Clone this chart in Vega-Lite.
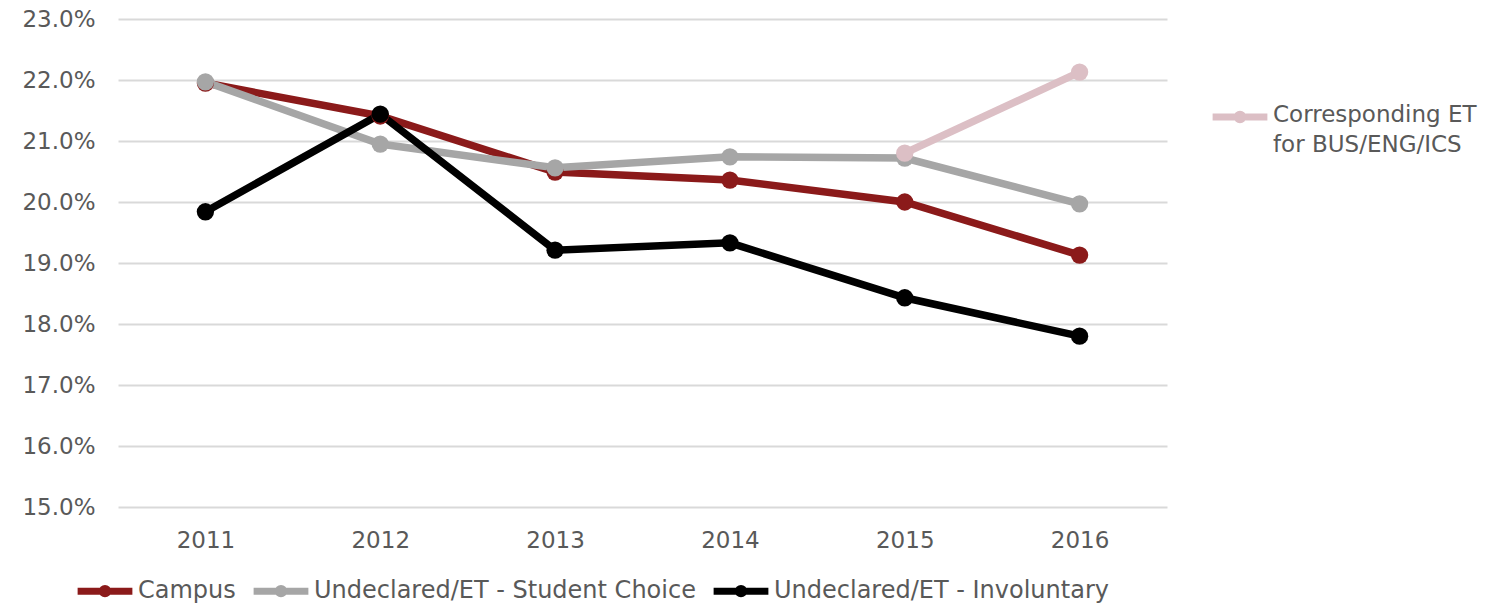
{
  "$schema": "https://vega.github.io/schema/vega-lite/v6.json",
  "width": 1049,
  "height": 488,
  "autosize": {"type": "none"},
  "padding": {"left": 118, "top": 19, "right": 331, "bottom": 98},
  "background": "white",
  "config": {
    "view": {"stroke": null},
    "font": "DejaVu Sans",
    "axis": {"labelFont": "DejaVu Sans", "labelColor": "#595959", "labelFontSize": 23}
  },
  "data": {
    "values": [
      {"year": "2011", "series": "Campus", "v": 0.2195},
      {"year": "2012", "series": "Campus", "v": 0.2141},
      {"year": "2013", "series": "Campus", "v": 0.2049},
      {"year": "2014", "series": "Campus", "v": 0.2036},
      {"year": "2015", "series": "Campus", "v": 0.2000},
      {"year": "2016", "series": "Campus", "v": 0.1913},
      {"year": "2011", "series": "Undeclared/ET - Student Choice", "v": 0.2197},
      {"year": "2012", "series": "Undeclared/ET - Student Choice", "v": 0.2095},
      {"year": "2013", "series": "Undeclared/ET - Student Choice", "v": 0.2056},
      {"year": "2014", "series": "Undeclared/ET - Student Choice", "v": 0.2074},
      {"year": "2015", "series": "Undeclared/ET - Student Choice", "v": 0.2072},
      {"year": "2016", "series": "Undeclared/ET - Student Choice", "v": 0.1997},
      {"year": "2011", "series": "Undeclared/ET - Involuntary", "v": 0.1984},
      {"year": "2012", "series": "Undeclared/ET - Involuntary", "v": 0.2144},
      {"year": "2013", "series": "Undeclared/ET - Involuntary", "v": 0.1921},
      {"year": "2014", "series": "Undeclared/ET - Involuntary", "v": 0.1933},
      {"year": "2015", "series": "Undeclared/ET - Involuntary", "v": 0.1843},
      {"year": "2016", "series": "Undeclared/ET - Involuntary", "v": 0.1780},
      {"year": "2015", "series": "Corresponding ET for BUS/ENG/ICS", "v": 0.2080},
      {"year": "2016", "series": "Corresponding ET for BUS/ENG/ICS", "v": 0.2213}
    ]
  },
  "encoding": {
    "x": {
      "field": "year", "type": "ordinal",
      "scale": {"type": "point", "padding": 0.5},
      "axis": {"title": null, "labelAngle": 0, "domain": false, "ticks": false, "labelPadding": 22, "grid": false}
    },
    "y": {
      "field": "v", "type": "quantitative",
      "scale": {"domain": [0.15, 0.23], "nice": false, "zero": false},
      "axis": {
        "title": null, "format": ".1%", "domain": false, "ticks": false, "labelPadding": 23,
        "values": [0.15, 0.16, 0.17, 0.18, 0.19, 0.20, 0.21, 0.22, 0.23],
        "gridColor": "#D9D9D9", "gridWidth": 2
      }
    }
  },
  "layer": [
    {
      "transform": [{"filter": "datum.series !== 'Corresponding ET for BUS/ENG/ICS'"}],
      "mark": {"type": "line", "strokeWidth": 7.5, "point": {"filled": true, "size": 300}},
      "encoding": {
        "color": {
          "field": "series", "type": "nominal",
          "scale": {
            "domain": ["Campus", "Undeclared/ET - Student Choice", "Undeclared/ET - Involuntary"],
            "range": ["#8B1A1A", "#A6A6A6", "#000000"]
          },
          "legend": {
            "title": null, "orient": "none", "direction": "horizontal",
            "legendX": -44, "legendY": 541,
            "symbolType": "M-1,0H1M-0.1,0A0.1,0.1 0 1,0 0.1,0A0.1,0.1 0 1,0 -0.1,0",
            "symbolSize": 3000, "symbolStrokeWidth": 7,
            "labelFont": "DejaVu Sans", "labelFontSize": 24, "labelColor": "#595959",
            "labelOffset": 2, "columnPadding": 3, "labelLimit": 500
          }
        }
      }
    },
    {
      "transform": [{"filter": "datum.series === 'Corresponding ET for BUS/ENG/ICS'"}],
      "mark": {"type": "line", "strokeWidth": 7.5, "point": {"filled": true, "size": 300}},
      "encoding": {
        "color": {
          "field": "series", "type": "nominal",
          "scale": {"domain": ["Corresponding ET for BUS/ENG/ICS"], "range": ["#DCBFC5"]},
          "legend": {
            "title": null, "orient": "none", "legendX": 1091, "legendY": 67,
            "symbolType": "M-1,0H1M-0.1,0A0.1,0.1 0 1,0 0.1,0A0.1,0.1 0 1,0 -0.1,0",
            "symbolSize": 3000, "symbolStrokeWidth": 7,
            "labelFont": "DejaVu Sans", "labelFontSize": 23, "labelColor": "#595959",
            "labelOffset": 2, "labelLimit": 500, "labelBaseline": "top",
            "labelExpr": "['Corresponding ET', 'for BUS/ENG/ICS']",
            "encode": {"labels": {"update": {"dy": {"value": -13}, "lineHeight": {"value": 30}}}}
          }
        }
      }
    }
  ],
  "resolve": {"scale": {"color": "independent"}, "legend": {"color": "independent"}}
}
